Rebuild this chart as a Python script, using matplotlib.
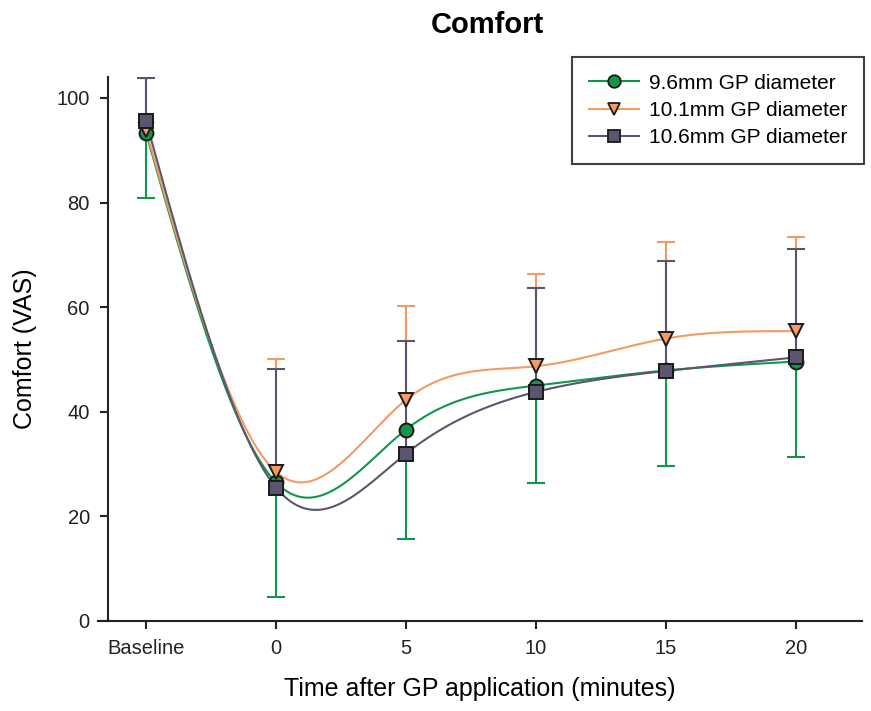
import numpy as np
import matplotlib
matplotlib.use("Agg")
import matplotlib.pyplot as plt
from matplotlib.lines import Line2D

plt.rcParams["font.family"] = ["Liberation Sans", "DejaVu Sans"]

# time points (Baseline drawn at -5)
x = [-5, 0, 5, 10, 15, 20]
xlabels = ["Baseline", "0", "5", "10", "15", "20"]

gp96 = [93.3, 26.5, 36.6, 45.0, 47.9, 49.6]
gp96_lo = [80.9, 4.6, 15.7, 26.4, 29.6, 31.3]     # lower error bar ends

gp101 = [93.8, 28.5, 42.3, 48.7, 54.0, 55.4]
gp101_hi = [103.8, 50.1, 60.3, 66.4, 72.4, 73.4]  # upper error bar ends

gp106 = [95.6, 25.5, 32.0, 43.8, 47.8, 50.4]
gp106_hi = [103.8, 48.2, 53.5, 63.7, 68.9, 71.2]

green = "#12964a"
orange = "#f59a60"
purple = "#5b566f"


def natural_spline(xs, ys, n=400):
    xs = np.asarray(xs, float); ys = np.asarray(ys, float)
    k = len(xs)
    h = np.diff(xs)
    A = np.zeros((k, k)); b = np.zeros(k)
    A[0, 0] = 1; A[-1, -1] = 1
    for i in range(1, k-1):
        A[i, i-1] = h[i-1]
        A[i, i] = 2*(h[i-1]+h[i])
        A[i, i+1] = h[i]
        b[i] = 6*((ys[i+1]-ys[i])/h[i] - (ys[i]-ys[i-1])/h[i-1])
    M = np.linalg.solve(A, b)
    xx = np.linspace(xs[0], xs[-1], n)
    yy = np.empty_like(xx)
    for j, t in enumerate(xx):
        i = min(np.searchsorted(xs, t, side="right")-1, k-2)
        a = xs[i+1]-t; c = t-xs[i]
        yy[j] = (M[i]*a**3 + M[i+1]*c**3)/(6*h[i]) + (ys[i]/h[i] - M[i]*h[i]/6)*a \
            + (ys[i+1]/h[i] - M[i+1]*h[i]/6)*c
    return xx, yy


fig = plt.figure(figsize=(8.71, 7.11), dpi=100)
ax = fig.add_axes([0.1125, 0.1266, 0.8772, 0.7651])

series = [
    (gp96, gp96_lo, green, "o", "9.6mm GP diameter"),
    (gp101, gp101_hi, orange, "v", "10.1mm GP diameter"),
    (gp106, gp106_hi, purple, "s", "10.6mm GP diameter"),
]

handles = []
for z, (y, err, col, mk, lab) in enumerate(series):
    # one-sided error bars: line from mean to end, cap at end only
    ax.vlines(x, y, err, color=col, lw=1.5, zorder=2+z)
    ax.plot(x, err, ls="none", marker="_", ms=13, mew=1.5, color=col, zorder=2+z)
    xx, yy = natural_spline(x, y)
    ax.plot(xx, yy, color=col, lw=1.5, zorder=5+z)
    ax.plot(x, y, ls="none", marker=mk, ms=10, mfc=col, mec="#1a1a1a",
            mew=1.4, zorder=10+z)
    handles.append(Line2D([], [], color=col, lw=1.5, marker=mk, ms=9,
                          mfc=col, mec="#1a1a1a", mew=1.3, label=lab))

ax.set_xlim(-6.85, 22.54)
ax.set_ylim(0, 104)
ax.spines["left"].set_position(("data", -6.47))
ax.spines["top"].set_visible(False)
ax.spines["right"].set_visible(False)
for s in ("left", "bottom"):
    ax.spines[s].set_linewidth(1.5)
    ax.spines[s].set_color("#222222")

ax.set_xticks(x)
ax.set_xticklabels(xlabels)
ax.set_yticks([0, 20, 40, 60, 80, 100])
ax.tick_params(direction="out", length=6, width=1.5, labelsize=14.5,
               colors="#222222", pad=7)

ax.set_xlabel("Time after GP application (minutes)", fontsize=18, labelpad=14)
ax.set_ylabel("Comfort (VAS)", fontsize=18, labelpad=14)
fig.text(0.559, 0.965, "Comfort", ha="center", va="center",
         fontsize=21, fontweight="bold")

leg = ax.legend(handles=handles, loc="upper right", bbox_to_anchor=(1.003, 1.037),
                borderaxespad=0, fontsize=15, frameon=True, fancybox=False,
                edgecolor="#111111", handlelength=2.4, borderpad=0.8,
                labelspacing=0.4, handletextpad=0.5)
leg.get_frame().set_linewidth(1.5)

fig.savefig("out.png", dpi=100)
